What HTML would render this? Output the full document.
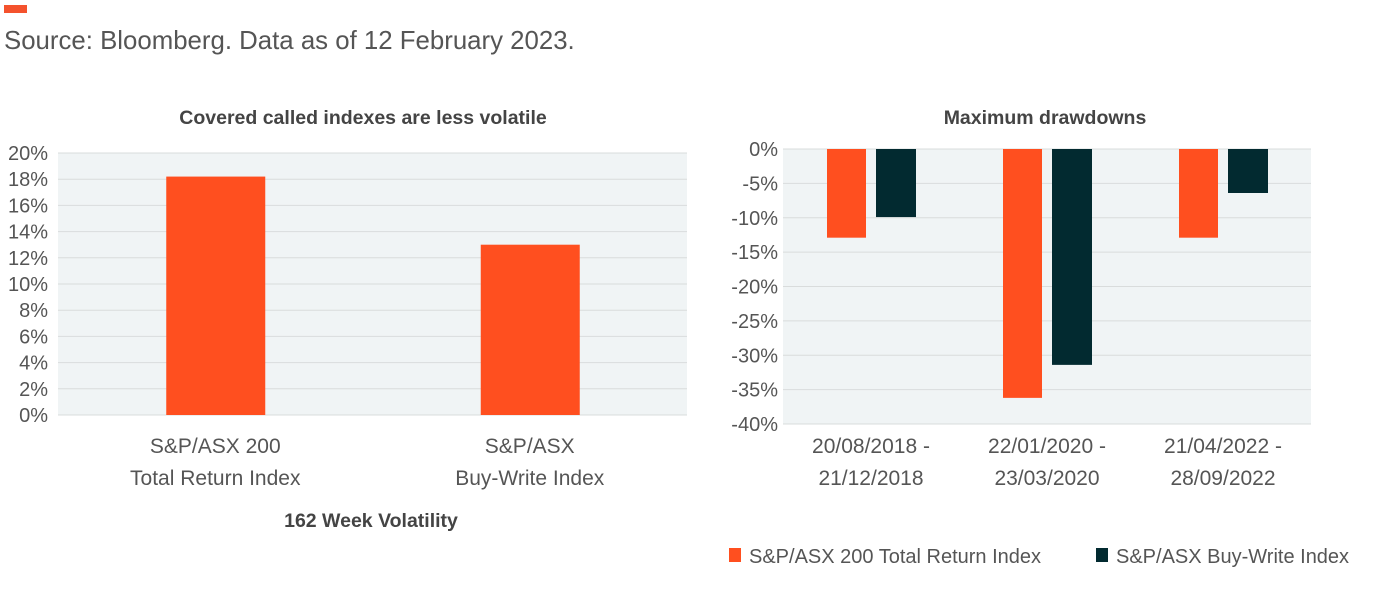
<!DOCTYPE html>
<html><head><meta charset="utf-8"><style>
body{margin:0;background:#fff;width:1379px;height:598px;overflow:hidden;font-family:"Liberation Sans",sans-serif;}
</style></head><body>
<svg id="svg" width="1379" height="598" xmlns="http://www.w3.org/2000/svg" font-family="Liberation Sans, sans-serif">
<rect x="4" y="5" width="23" height="8" fill="#f4522d"/>
<text x="4" y="49" font-size="25.8" fill="#555">Source: Bloomberg. Data as of 12 February 2023.</text>
<text x="363" y="124" font-size="19.5" font-weight="bold" fill="#444" text-anchor="middle">Covered called indexes are less volatile</text>
<text x="1045" y="124" font-size="19.5" font-weight="bold" fill="#444" text-anchor="middle">Maximum drawdowns</text>
<text x="371" y="527" font-size="19.5" font-weight="bold" fill="#444" text-anchor="middle">162 Week Volatility</text>
<g id="left"></g>
<g id="right"></g>
<g>
<rect x="729" y="548" width="12" height="14" fill="#ff4f1f"/>
<text x="749" y="563" font-size="20" fill="#555">S&amp;P/ASX 200 Total Return Index</text>
<rect x="1096" y="548" width="12" height="14" fill="#022a30"/>
<text x="1116" y="563" font-size="20" fill="#555">S&amp;P/ASX Buy-Write Index</text>
</g>
</svg>
<script>
const NS="http://www.w3.org/2000/svg";
const volCategories=[["S&P/ASX 200","Total Return Index"],["S&P/ASX","Buy-Write Index"]];
const volValues=[18.2,13.0];
const volTicks=[0,2,4,6,8,10,12,14,16,18,20];
const ddCategories=[["20/08/2018 -","21/12/2018"],["22/01/2020 -","23/03/2020"],["21/04/2022 -","28/09/2022"]];
const ddTotalReturn=[-12.9,-36.2,-12.9];
const ddBuyWrite=[-9.9,-31.4,-6.4];
const ddTicks=[0,-5,-10,-15,-20,-25,-30,-35,-40];
function mk(p,tag,a,txt){const e=document.createElementNS(NS,tag);for(const k in a)e.setAttribute(k,a[k]);if(txt!==undefined)e.textContent=txt;p.appendChild(e);return e;}
(function(){
const g=document.getElementById('left');
const x0=58,x1=687,yT=153,yB=415;
const y=v=>yB-(v-0)/20*(yB-yT);
const bg=mk(g,'rect',{x:x0,y:yT,width:x1-x0,height:yB-yT,fill:'#f0f4f5'});

volTicks.forEach(t=>{
const l=mk(g,'line',{x1:x0,x2:x1,y1:y(t),y2:y(t),stroke:'#d9dcdc','stroke-width':1});

const tx=mk(g,'text',{x:48,y:y(t)+7,'font-size':20,fill:'#555','text-anchor':'end'},t+'%');

});
const bw=(x1-x0)/volValues.length;
volValues.forEach((v,i)=>{
const cx=x0+bw*(i+0.5);
const r=mk(g,'rect',{x:cx-49,y:y(v),width:99,height:yB-y(v),fill:'#ff4f1f'});

volCategories[i].forEach((s,j)=>{const t=mk(g,'text',{x:cx,y:453+j*32,'font-size':21,fill:'#555','text-anchor':'middle'},s);
});
});
})();
(function(){
const g=document.getElementById('right');
const x0=783,x1=1311,yT=149,yB=424;
const y=v=>yT+(0-v)/40*(yB-yT);
const bg=mk(g,'rect',{x:x0,y:yT,width:x1-x0,height:yB-yT,fill:'#f0f4f5'});

ddTicks.forEach(t=>{
const l=mk(g,'line',{x1:x0,x2:x1,y1:y(t),y2:y(t),stroke:'#d9dcdc','stroke-width':1});

const tx=mk(g,'text',{x:778,y:y(t)+7,'font-size':20,fill:'#555','text-anchor':'end'},t+'%');

});
const bw=(x1-x0)/ddCategories.length;
ddCategories.forEach((c,i)=>{
const cx=x0+bw*(i+0.5);
const a=ddTotalReturn[i],b=ddBuyWrite[i];
const r1=mk(g,'rect',{x:cx-44,y:yT,width:39,height:y(a)-yT,fill:'#ff4f1f'});

const r2=mk(g,'rect',{x:cx+5,y:yT,width:40,height:y(b)-yT,fill:'#022a30'});

c.forEach((s,j)=>{const t=mk(g,'text',{x:cx,y:453+j*32,'font-size':21,fill:'#555','text-anchor':'middle'},s);
});
});
})();
</script>
</body></html>
